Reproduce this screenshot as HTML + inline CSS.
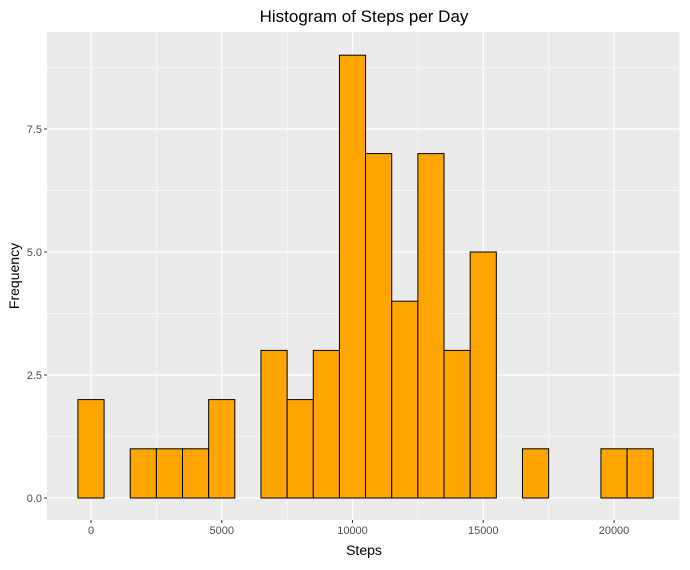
<!DOCTYPE html>
<html><head><meta charset="utf-8"><style>
body{margin:0;background:#fff;}
svg text{font-family:"Liberation Sans",sans-serif;}
</style></head><body>
<svg id="chart" width="690" height="565" xmlns="http://www.w3.org/2000/svg">
<rect x="0" y="0" width="690" height="565" fill="#fff"/>
<rect x="47" y="32" width="633" height="488" fill="#ebebeb"/>
<g id="grid"></g>
<g id="bars"></g>
<g id="axes"></g>
<text x="364" y="22" text-anchor="middle" font-size="17" fill="#000">Histogram of Steps per Day</text>
<text x="364" y="555" text-anchor="middle" font-size="14" fill="#000">Steps</text>
<text transform="translate(19,276) rotate(-90)" text-anchor="middle" font-size="14" fill="#000">Frequency</text>
</svg>
<script>
const binCenters=[0,1000,2000,3000,4000,5000,6000,7000,8000,9000,10000,11000,12000,13000,14000,15000,16000,17000,18000,19000,20000,21000];
const counts=[2,0,1,1,1,2,0,3,2,3,9,7,4,7,3,5,0,1,0,0,1,1];
const xTicks=[0,5000,10000,15000,20000];
const xTickLabels=["0","5000","10000","15000","20000"];
const yTicks=[0,2.5,5,7.5];
const yTickLabels=["0.0","2.5","5.0","7.5"];
const binWidth=1000;
const NS="http://www.w3.org/2000/svg";
const px0=47,px1=680,py0=32,py1=520;
function xs(v){return 91+v*(130.75/5000);}
function ys(v){return 498-v*49.2;}
function mk(tag,attrs,parent){const e=document.createElementNS(NS,tag);for(const k in attrs)e.setAttribute(k,attrs[k]);parent.appendChild(e);return e;}
const grid=document.getElementById('grid'),bars=document.getElementById('bars'),axes=document.getElementById('axes');
// minor gridlines
for(let i=0;i<yTicks.length;i++){const v=yTicks[i]+1.25;const y=ys(v);if(y>py0){const l=mk('line',{x1:px0,x2:px1,y1:y,y2:y,stroke:'#fff','stroke-width':0.6},grid);}}
for(let i=0;i<xTicks.length;i++){const v=xTicks[i]+2500;const x=xs(v);if(x<px1){const l=mk('line',{x1:x,x2:x,y1:py0,y2:py1,stroke:'#fff','stroke-width':0.6},grid);}}
yTicks.forEach((v,i)=>{const y=ys(v);
const l=mk('line',{x1:px0,x2:px1,y1:y,y2:y,stroke:'#fff','stroke-width':1.2},grid);


const t=mk('line',{x1:px0-3,x2:px0,y1:y,y2:y,stroke:'#333','stroke-width':1},axes);


const tx=mk('text',{x:px0-5,y:y+4,'text-anchor':'end','font-size':11,fill:'#4d4d4d'},axes);tx.textContent=yTickLabels[i];

});
xTicks.forEach((v,i)=>{const x=xs(v);
const l=mk('line',{x1:x,x2:x,y1:py0,y2:py1,stroke:'#fff','stroke-width':1.2},grid);


const t=mk('line',{x1:x,x2:x,y1:py1,y2:py1+3,stroke:'#333','stroke-width':1},axes);


const tx=mk('text',{x:x,y:py1+14,'text-anchor':'middle','font-size':11,fill:'#4d4d4d'},axes);tx.textContent=xTickLabels[i];

});
binCenters.forEach((c,i)=>{const x0=xs(c-binWidth/2),x1=xs(c+binWidth/2),y=ys(counts[i]),yb=ys(0);
const r=mk('rect',{x:x0,y:Math.min(y,yb),width:x1-x0,height:Math.abs(yb-y),fill:'#ffa500',stroke:'#000','stroke-width':1},bars);

});
</script>
</body></html>
